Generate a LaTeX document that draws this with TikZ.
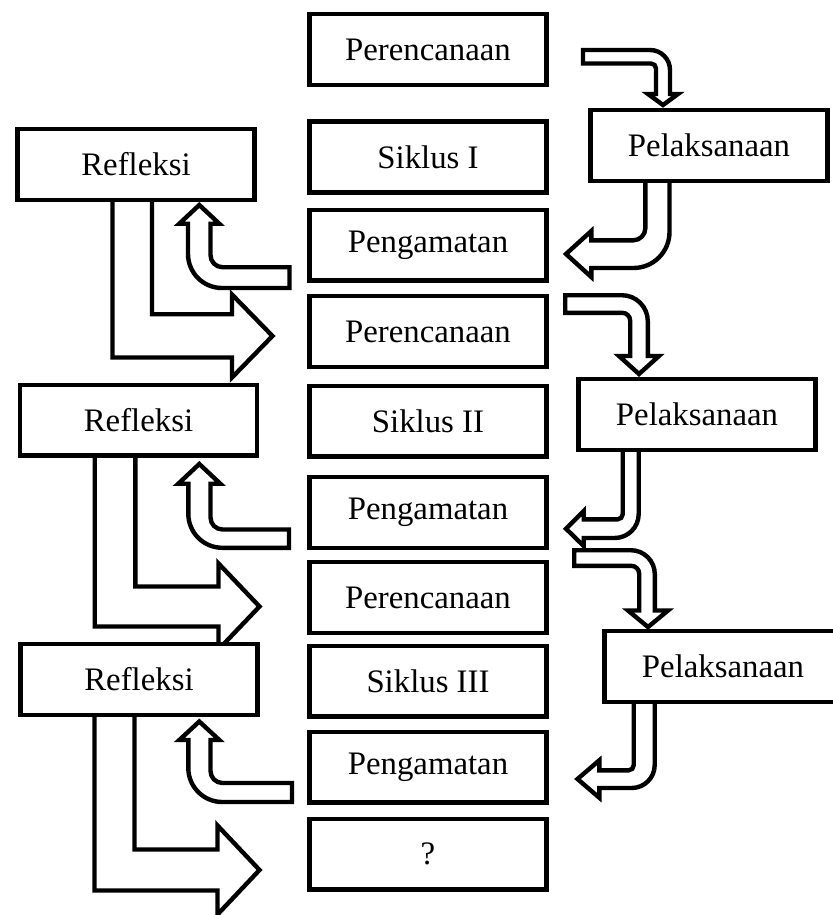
\documentclass[tikz,border=0pt]{standalone}
\usepackage{fontspec}
\setmainfont{Liberation Serif}
\usetikzlibrary{positioning}

\begin{document}
\begin{tikzpicture}[x=0.5pt, y=-0.5pt,
                box/.style={draw, line width=2.2pt, fill=white,
                            minimum width=118.5pt, minimum height=35.3pt,
                            inner sep=0pt, font=\fontsize{16.4}{19}\selectfont},
                barrow/.style={draw, line width=2.2pt, fill=white, line join=miter}]
                \useasboundingbox (0,0) rectangle (833,915);
                \fill[white] (0,0) rectangle (833,915);
                \clip (0,0) rectangle (833,915);

                % Refleksi -> Perencanaan
                \draw[barrow] (112.5,198) -- (152,198) -- (152,314.2) -- (232,314.2) -- (232,294.5)
                      -- (272.5,336) -- (232,377.5) -- (232,357.5) -- (112.5,357.5) -- cycle;
                \draw[barrow] (94.7,453) -- (135.3,453) -- (135.3,586.5) -- (218.5,586.5) -- (218.5,563.5)
                      -- (259.5,606.5) -- (218.5,649.5) -- (218.5,626.5) -- (94.7,626.5) -- cycle;
                \draw[barrow] (94.5,713) -- (134.5,713) -- (134.5,849.5) -- (217.5,849.5) -- (217.5,825.5)
                      -- (259.5,870) -- (217.5,914.5) -- (217.5,890.5) -- (94.5,890.5) -- cycle;

                % Pengamatan -> Refleksi
                \draw[barrow] (289.5,267.2) [rounded corners=6pt] -- (210.5,267.2) [sharp corners] -- (210.5,223.7)
                      -- (219.3,223.7) -- (199.3,205) -- (179.3,223.7) -- (188,223.7)
                      [rounded corners=17pt] -- (188,288) [sharp corners] -- (289.5,288) -- cycle;
                \draw[barrow] (289,529.5) [rounded corners=6pt] -- (210.5,529.5) [sharp corners] -- (210.5,483.7)
                      -- (220.3,483.7) -- (199.3,464) -- (178.3,483.7) -- (188.3,483.7)
                      [rounded corners=17pt] -- (188.3,547.8) [sharp corners] -- (289,547.8) -- cycle;
                \draw[barrow] (292,783) [rounded corners=6pt] -- (210.5,783) [sharp corners] -- (210.5,740)
                      -- (219.3,740) -- (199.3,721.5) -- (179.3,740) -- (188.3,740)
                      [rounded corners=17pt] -- (188.3,802) [sharp corners] -- (292,802) -- cycle;

                % Perencanaan -> Pelaksanaan
                \draw[barrow] (583,50) [rounded corners=10pt] -- (670,50) [sharp corners] -- (670,94)
                      -- (678,94) -- (663,105) -- (648,94) -- (656,94)
                      [rounded corners=2.5pt] -- (656,63.5) [sharp corners] -- (583,63.5) -- cycle;
                \draw[barrow] (565.2,295.2) [rounded corners=13pt] -- (647.8,295.2) [sharp corners] -- (647.8,356)
                      -- (659,356) -- (639,374) -- (619,356) -- (630.2,356)
                      [rounded corners=4pt] -- (630.2,312.8) [sharp corners] -- (565.2,312.8) -- cycle;
                \draw[barrow] (574.2,550.2) [rounded corners=12pt] -- (654.8,550.2) [sharp corners] -- (654.8,610.5)
                      -- (668,610.5) -- (648,627) -- (628,610.5) -- (639.2,610.5)
                      [rounded corners=4pt] -- (639.2,565.8) [sharp corners] -- (574.2,565.8) -- cycle;

                % Pelaksanaan -> Pengamatan
                \draw[barrow] (645.3,178) -- (669.5,178) [rounded corners=18pt] -- (669.5,268) [sharp corners] -- (591.3,268)
                      -- (591.3,277) -- (566,254) -- (591.3,231) -- (591.3,240.3)
                      [rounded corners=6pt] -- (645.3,240.3) [sharp corners] -- (645.3,178) -- cycle;
                \draw[barrow] (622.7,448) -- (638.7,448) [rounded corners=12pt] -- (638.7,538) [sharp corners] -- (583.7,538)
                      -- (583.7,546) -- (566,528.7) -- (583.7,511) -- (583.7,519.3)
                      [rounded corners=2.5pt] -- (622.7,519.3) [sharp corners] -- (622.7,448) -- cycle;
                \draw[barrow] (633.7,700) -- (654.7,700) [rounded corners=11.5pt] -- (654.7,788) [sharp corners] -- (599.3,788)
                      -- (599.3,797.7) -- (577.5,779) -- (599.3,760.3) -- (599.3,770.3)
                      [rounded corners=2.5pt] -- (633.7,770.3) [sharp corners] -- (633.7,700) -- cycle;

                \node[box] (plan1) at (428,49.5) {Perencanaan};
                \node[box, below=16.25pt of plan1] (siklus1) {Siklus I};
                \node[box, below=6.5pt of siklus1] (obs1) {Pengamatan};
                \node[box, below=5.75pt of obs1] (plan2) {Perencanaan};
                \node[box, below=7.25pt of plan2] (siklus2) {Siklus II};
                \node[box, below=8.25pt of siklus2] (obs2) {Pengamatan};
                \node[box, below=5pt of obs2] (plan3) {Perencanaan};
                \node[box, below=4.25pt of plan3] (siklus3) {Siklus III};
                \node[box, below=5.5pt of siklus3] (obs3) {Pengamatan};
                \node[box, below=6pt of obs3] (next) {?};

                \node[box] (refl1) at (136,164.5) {Refleksi};
                \node[box] (refl2) at (138.5,420) {Refleksi};
                \node[box] (refl3) at (139,679.5) {Refleksi};
                \node[box] (pel1) at (709,145.5) {Pelaksanaan};
                \node[box] (pel2) at (697,414.5) {Pelaksanaan};
                \node[box] (pel3) at (723,666.5) {Pelaksanaan};
            \end{tikzpicture}
\end{document}
